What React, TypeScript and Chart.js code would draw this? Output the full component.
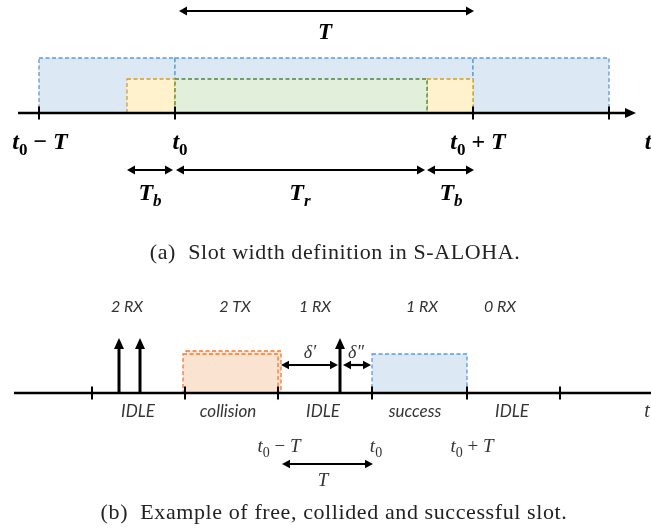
import React, { useEffect, useRef } from "react";
import { Chart, registerables } from "chart.js";

Chart.register(...registerables);

const W = 651;
const H = 531;

// ---------- (a) slot width definition ----------
// time positions along the drawing's x axis
const slotEdgesA = [39, 175, 473, 609]; // t0−T, t0, t0+T, t0+2T
const guardBandsA = [[127, 175], [427, 473]]; // T_b
const payloadA = [175, 427]; // T_r
const axisRowA = 113;
const slotTopA = 58;
const packetTopA = 79;
const axisStartA = 18;
const axisEndA = 636;
const tickLabelsA = ["t0−T", "t0", "t0+T", "t"];
const tickLabelPosA = [40, 180, 478, 648];

// ---------- (b) free / collided / successful slots ----------
const slotEdgesB = [92, 185, 278, 372, 467, 560];
const axisRowB = 393;
const axisStartB = 14;
const rxArrivals = [119, 140, 340]; // packet arrival instants
const rxArrivalTop = 338;
const collisionBoxes = [[186, 281, 351], [183, 278, 354]]; // two overlapping TX
const successBox = [372, 467, 354];
const countLabels = ["2 RX", "2 TX", "1 RX", "1 RX", "0 RX"];
const countLabelPos = [127, 235, 315, 422, 500];
const stateLabels = ["IDLE", "collision", "IDLE", "success", "IDLE", "t"];
const stateLabelPos = [138, 228, 323, 415, 512, 647];
const deltaOne = [281, 338];
const deltaTwo = [343, 371];

type Part = { s: string; sub?: boolean; up?: boolean };

function mathParts(label: string): Part[] {
  // "t0−T" style labels: italic symbols, upright subscripted index
  const parts: Part[] = [];
  if (label.startsWith("t0")) {
    parts.push({ s: "t" }, { s: "0", sub: true, up: true });
    const rest = label.slice(2);
    if (rest === "−T") parts.push({ s: " − ", up: true }, { s: "T" });
    if (rest === "+T") parts.push({ s: " + ", up: true }, { s: "T" });
  } else {
    parts.push({ s: label });
  }
  return parts;
}

function drawMath(
  ctx: CanvasRenderingContext2D,
  cx: number,
  cy: number,
  parts: Part[],
  size: number,
  weight: string
) {
  const fontFor = (p: Part) => {
    const sz = p.sub ? Math.round(size * 0.72) : size;
    const st = p.up ? "normal" : "italic";
    return `${st} ${weight} ${sz}px "Liberation Serif", serif`;
  };
  const widths: number[] = [];
  let total = 0;
  for (const p of parts) {
    ctx.font = fontFor(p);
    const w = ctx.measureText(p.s).width;
    widths.push(w);
    total += w;
  }
  let x = cx - total / 2;
  const base = cy + size * 0.33;
  ctx.textAlign = "left";
  ctx.textBaseline = "alphabetic";
  parts.forEach((p, i) => {
    ctx.font = fontFor(p);
    ctx.fillText(p.s, x, base + (p.sub ? size * 0.24 : 0));
    x += widths[i];
  });
}

function arrowHead(
  ctx: CanvasRenderingContext2D,
  tipX: number,
  tipY: number,
  dx: number,
  dy: number,
  len: number,
  half: number
) {
  const bx = tipX - dx * len;
  const by = tipY - dy * len;
  ctx.beginPath();
  ctx.moveTo(tipX, tipY);
  ctx.lineTo(bx - dy * half, by + dx * half);
  ctx.lineTo(bx + dy * half, by - dx * half);
  ctx.closePath();
  ctx.fill();
}

function hArrow(
  ctx: CanvasRenderingContext2D,
  x1: number,
  x2: number,
  y: number,
  lw: number,
  len: number,
  half: number
) {
  ctx.lineWidth = lw;
  ctx.beginPath();
  ctx.moveTo(x1 + len * 0.6, y);
  ctx.lineTo(x2 - len * 0.6, y);
  ctx.stroke();
  arrowHead(ctx, x1, y, -1, 0, len, half);
  arrowHead(ctx, x2, y, 1, 0, len, half);
}

function dashedBox(
  ctx: CanvasRenderingContext2D,
  x1: number,
  x2: number,
  yTop: number,
  yBot: number,
  fill: string | null,
  stroke: string
) {
  if (fill) {
    ctx.fillStyle = fill;
    ctx.fillRect(x1, yTop, x2 - x1, yBot - yTop);
  }
  ctx.save();
  ctx.strokeStyle = stroke;
  ctx.lineWidth = 1.3;
  ctx.setLineDash([4, 2.5]);
  ctx.strokeRect(x1, yTop, x2 - x1, yBot - yTop);
  ctx.restore();
}

function caption(ctx: CanvasRenderingContext2D, text: string, x: number, y: number) {
  ctx.save();
  ctx.font = '22px "Liberation Serif", serif';
  (ctx as any).letterSpacing = "0.6px";
  ctx.textAlign = "center";
  ctx.textBaseline = "middle";
  ctx.fillStyle = "#222";
  ctx.fillText(text, x, y);
  ctx.restore();
}

const diagramPlugin = {
  id: "slotDiagram",
  beforeDatasetsDraw(chart: any) {
    const { ctx, scales } = chart;
    const px = (v: number) => scales.x.getPixelForValue(v);
    const py = (v: number) => scales.y.getPixelForValue(v);
    ctx.save();
    // (a) slots
    for (let i = 0; i < slotEdgesA.length - 1; i++) {
      dashedBox(ctx, px(slotEdgesA[i]), px(slotEdgesA[i + 1]), py(slotTopA), py(axisRowA), "#dde8f5", "#5b9bd5");
    }
    for (const [a, b] of guardBandsA) {
      dashedBox(ctx, px(a), px(b), py(packetTopA), py(axisRowA), "#fff2cc", "#d4a01c");
    }
    dashedBox(ctx, px(payloadA[0]), px(payloadA[1]), py(packetTopA), py(axisRowA), "#e2efda", "#548235");
    // (b) transmissions
    const [bx1, bx2, bTop] = collisionBoxes[0];
    dashedBox(ctx, px(bx1), px(bx2), py(bTop), py(axisRowB), "#fbe3d2", "#ed7d31");
    const [fx1, fx2, fTop] = collisionBoxes[1];
    dashedBox(ctx, px(fx1), px(fx2), py(fTop), py(axisRowB), "#fbe3d2", "#ed7d31");
    dashedBox(ctx, px(successBox[0]), px(successBox[1]), py(successBox[2]), py(axisRowB), "#dde8f5", "#5b9bd5");
    ctx.restore();
  },
  afterDatasetsDraw(chart: any) {
    const { ctx, scales } = chart;
    const px = (v: number) => scales.x.getPixelForValue(v);
    const py = (v: number) => scales.y.getPixelForValue(v);
    ctx.save();
    ctx.fillStyle = "#000";
    ctx.strokeStyle = "#000";

    // ----- (a) -----
    arrowHead(ctx, px(axisEndA), py(axisRowA), 1, 0, 11, 5);
    hArrow(ctx, px(slotEdgesA[1] + 4), px(slotEdgesA[2] + 1), py(11), 2.2, 8, 4.5);
    drawMath(ctx, px(325), py(31), [{ s: "T" }], 23, "bold");
    tickLabelsA.forEach((l, i) => {
      drawMath(ctx, px(tickLabelPosA[i]), py(141), mathParts(l), 24, "bold");
    });
    hArrow(ctx, px(guardBandsA[0][0]), px(guardBandsA[0][1] - 2), py(170), 2.2, 8, 4.5);
    hArrow(ctx, px(payloadA[0] + 1), px(payloadA[1] - 2), py(170), 2.2, 8, 4.5);
    hArrow(ctx, px(guardBandsA[1][0]), px(guardBandsA[1][1] + 1), py(170), 2.2, 8, 4.5);
    const subLabel = (cx: number, sub: string) =>
      drawMath(ctx, px(cx), py(192), [{ s: "T" }, { s: sub, sub: true }], 24, "bold");
    subLabel(150, "b");
    subLabel(300, "r");
    subLabel(451, "b");

    caption(ctx, "(a)  Slot width definition in S-ALOHA.", px(335), py(253));

    // ----- (b) -----
    ctx.fillStyle = "#000";
    ctx.lineWidth = 3;
    for (const x of rxArrivals) {
      ctx.beginPath();
      ctx.moveTo(px(x), py(axisRowB));
      ctx.lineTo(px(x), py(rxArrivalTop) + 8);
      ctx.stroke();
      arrowHead(ctx, px(x), py(rxArrivalTop), 0, -1, 11, 5);
    }
    hArrow(ctx, px(deltaOne[0]), px(deltaOne[1]), py(365), 2.2, 8, 4.2);
    hArrow(ctx, px(deltaTwo[0]), px(deltaTwo[1]), py(365), 2.2, 8, 4.2);
    ctx.fillStyle = "#333";
    drawMath(ctx, px(310), py(352), [{ s: "δ′" }], 18, "normal");
    drawMath(ctx, px(356), py(352), [{ s: "δ″" }], 18, "normal");

    ctx.textAlign = "center";
    ctx.textBaseline = "middle";
    ctx.font = 'italic 16px Lato, sans-serif';
    countLabels.forEach((l, i) => ctx.fillText(l, px(countLabelPos[i]), py(307)));
    ctx.font = 'italic 17px Lato, sans-serif';
    stateLabels.forEach((l, i) => {
      if (l === "t") return;
      ctx.fillText(l, px(stateLabelPos[i]), py(412));
    });
    drawMath(ctx, px(647), py(410), [{ s: "t" }], 20, "normal");

    drawMath(ctx, px(279), py(446), mathParts("t0−T"), 19, "normal");
    drawMath(ctx, px(376), py(446), mathParts("t0"), 19, "normal");
    drawMath(ctx, px(472), py(446), mathParts("t0+T"), 19, "normal");
    ctx.fillStyle = "#000";
    hArrow(ctx, px(282), px(373), py(464), 2.2, 8, 4.2);
    ctx.fillStyle = "#333";
    drawMath(ctx, px(323), py(480), [{ s: "T" }], 19, "normal");

    caption(ctx, "(b)  Example of free, collided and successful slot.", px(334), py(513));
    ctx.restore();
  },
};

export default function App() {
  const ref = useRef<HTMLCanvasElement | null>(null);

  useEffect(() => {
    if (!ref.current) return;
    const tickPoints = [
      ...slotEdgesA.map((x) => ({ x, y: axisRowA })),
      ...slotEdgesB.map((x) => ({ x, y: axisRowB })),
    ];
    const chart = new Chart(ref.current, {
      type: "scatter",
      data: {
        datasets: [
          {
            type: "line",
            label: "axis (a)",
            data: [
              { x: axisStartA, y: axisRowA },
              { x: axisEndA - 6, y: axisRowA },
            ],
            borderColor: "#000",
            borderWidth: 2.6,
            pointRadius: 0,
          },
          {
            type: "line",
            label: "axis (b)",
            data: [
              { x: axisStartB, y: axisRowB },
              { x: W, y: axisRowB },
            ],
            borderColor: "#000",
            borderWidth: 2.6,
            pointRadius: 0,
          },
          {
            label: "slot boundaries",
            data: tickPoints,
            pointStyle: "line",
            rotation: 90,
            pointRadius: 6.5,
            borderColor: "#000",
            borderWidth: 2,
            backgroundColor: "#000",
          },
        ],
      } as any,
      options: {
        animation: false,
        responsive: false,
        devicePixelRatio: 1,
        layout: { padding: 0, autoPadding: false },
        events: [],
        plugins: {
          legend: { display: false },
          tooltip: { enabled: false },
        },
        scales: {
          x: { type: "linear", min: 0, max: W, display: false },
          y: { type: "linear", min: 0, max: H, reverse: true, display: false },
        },
      } as any,
      plugins: [diagramPlugin],
    });
    return () => chart.destroy();
  }, []);

  return (
    <div style={{ position: "absolute", left: 0, top: 0, width: W, height: H, background: "#fff" }}>
      <canvas ref={ref} width={W} height={H} style={{ display: "block", width: W, height: H }} />
    </div>
  );
}
